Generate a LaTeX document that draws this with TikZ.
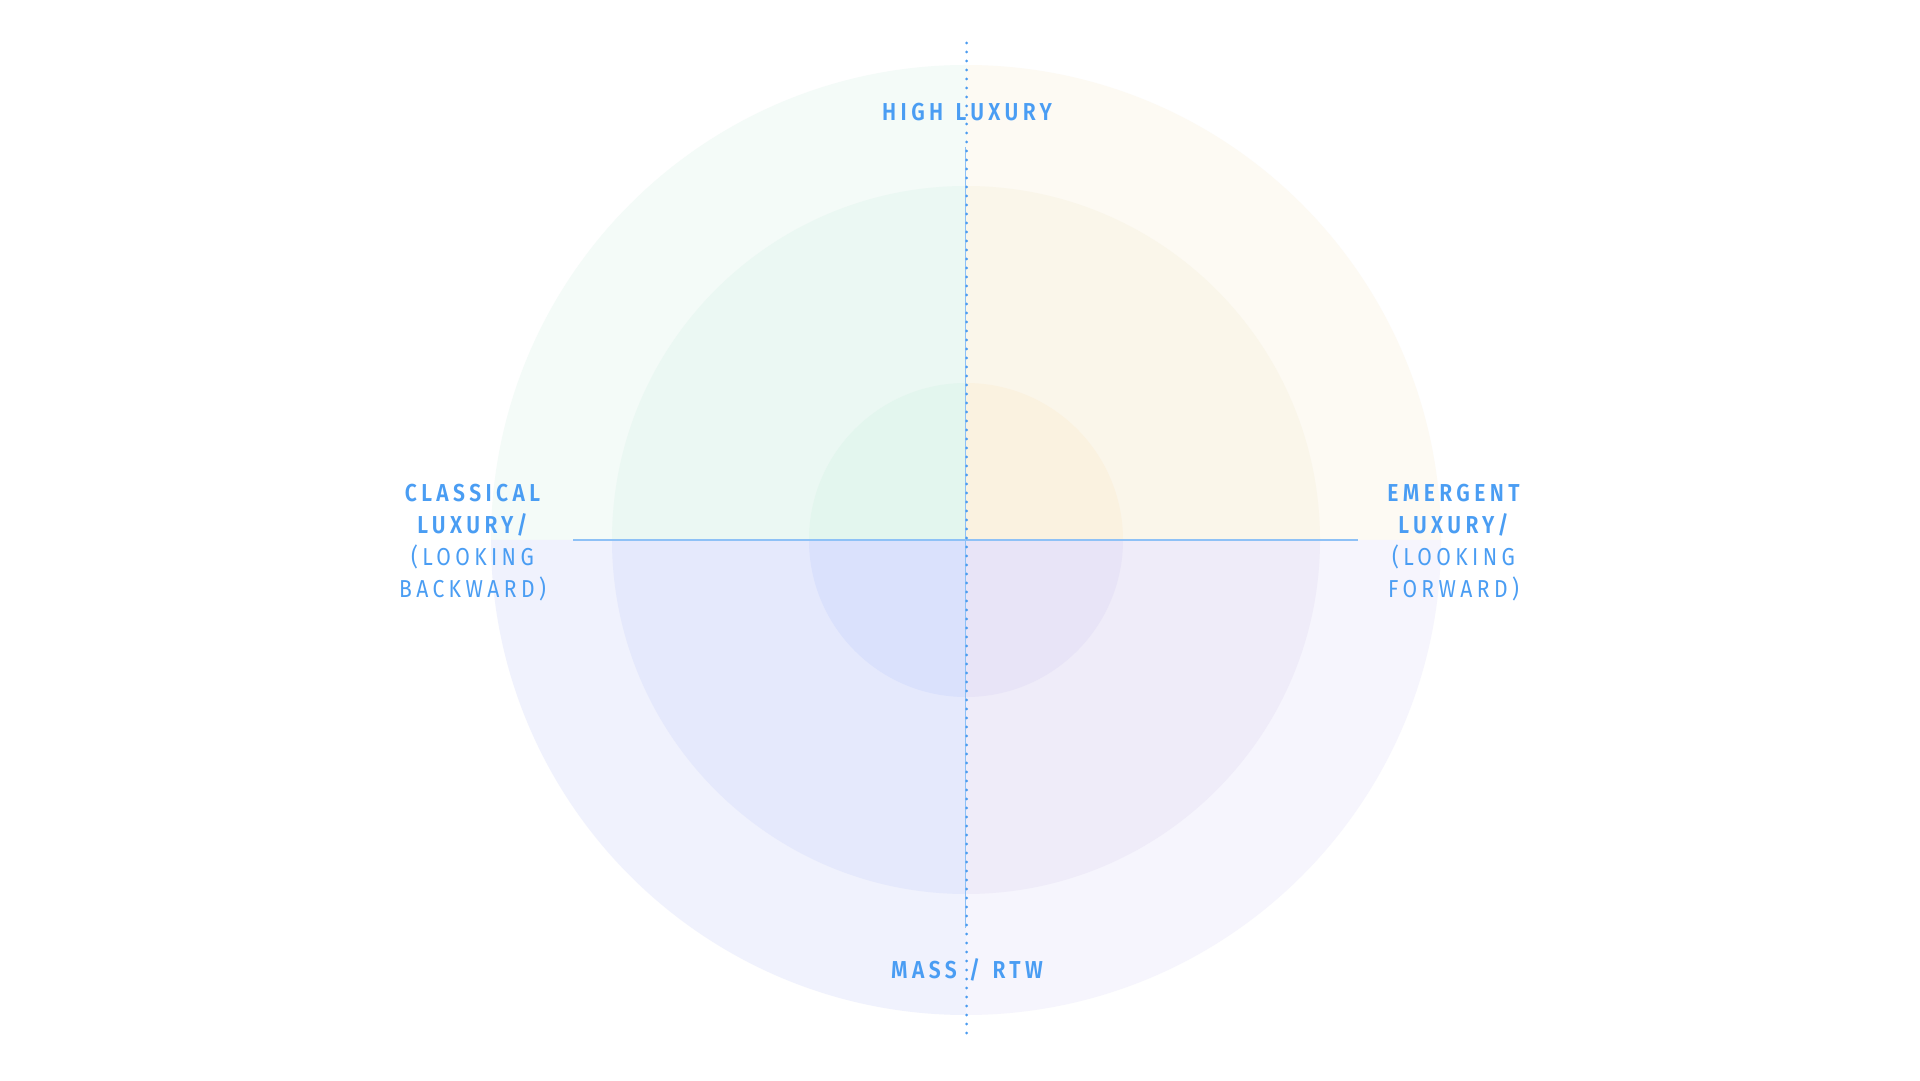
\documentclass[tikz,border=0pt]{standalone}
\usepackage{fontspec}
\setmainfont{Fira Sans}[FakeStretch=0.86]
\newfontfamily\lblbold{Fira Sans SemiBold}[FakeStretch=0.86,LetterSpace=18,WordSpace=1.3]
\newfontfamily\lblreg{Fira Sans}[FakeStretch=0.86,LetterSpace=18]
\definecolor{txtblue}{HTML}{4A9DF3}
\definecolor{lineblue}{HTML}{8EC1F6}
\definecolor{dotblue}{HTML}{4A9BF0}
\definecolor{oTL}{HTML}{F4FBF8}
\definecolor{oTR}{HTML}{FDFAF3}
\definecolor{oBL}{HTML}{F0F2FD}
\definecolor{oBR}{HTML}{F6F5FD}
\definecolor{mTL}{HTML}{EBF8F3}
\definecolor{mTR}{HTML}{FAF6EA}
\definecolor{mBL}{HTML}{E5E9FC}
\definecolor{mBR}{HTML}{EFECF9}
\definecolor{iTL}{HTML}{E3F6EE}
\definecolor{iTR}{HTML}{FAF2E0}
\definecolor{iBL}{HTML}{DAE1FC}
\definecolor{iBR}{HTML}{E8E4F7}
\tikzset{
  axislabel/.style={text=txtblue, align=center, font=\fontsize{24.5}{32}\selectfont, inner sep=0pt},
  hline/.style={draw=lineblue, line width=1.5pt},
  dotline/.style={draw=dotblue, line width=3pt, line cap=round, dash pattern=on 0pt off 9pt},
}
\newcommand{\quadfill}[4]{% color, radius, start angle, end angle
  \fill[#1] (C) -- ++(#3:#2) arc[start angle=#3, end angle=#4, radius=#2] -- cycle;}
\begin{document}
\begin{tikzpicture}[x=1pt,y=1pt]
\fill[white] (0,0) rectangle (1920,1080);
\useasboundingbox (0,0) rectangle (1920,1080);
\coordinate (C) at (966,540);
% outer ring
\quadfill{oTR}{475}{0}{90}
\quadfill{oTL}{475}{90}{180}
\quadfill{oBL}{475}{180}{270}
\quadfill{oBR}{475}{270}{360}
% middle ring
\quadfill{mTR}{354}{0}{90}
\quadfill{mTL}{354}{90}{180}
\quadfill{mBL}{354}{180}{270}
\quadfill{mBR}{354}{270}{360}
% inner disc
\quadfill{iTR}{157}{0}{90}
\quadfill{iTL}{157}{90}{180}
\quadfill{iBL}{157}{180}{270}
\quadfill{iBR}{157}{270}{360}
% axes
\coordinate (hL) at (573,540);
\coordinate (hR) at (1358,540);
\coordinate (vsT) at (965.5,933);
\coordinate (vsB) at (965.5,152);
\coordinate (vdT) at (966.5,1037);
\coordinate (vdB) at (966.5,43);
\draw[hline] (hL) -- (hR);
\draw[hline] (vsT) -- (vsB);
\draw[dotline] (vdT) -- (vdB);
% labels
\node[axislabel] (high) at (967,968) {\lblbold HIGH LUXURY};
\node[axislabel] (mass) at (967,110) {\lblbold MASS / RTW};
\node[axislabel, anchor=center] (classical) at (472.5,537)
  {\lblbold CLASSICAL\\ \lblbold LUXURY/\\ \lblreg (LOOKING\\ \lblreg BACKWARD)};
\node[axislabel, anchor=center] (emergent) at (1453.5,537)
  {\lblbold EMERGENT\\ \lblbold LUXURY/\\ \lblreg (LOOKING\\ \lblreg FORWARD)};
\end{tikzpicture}
\end{document}
